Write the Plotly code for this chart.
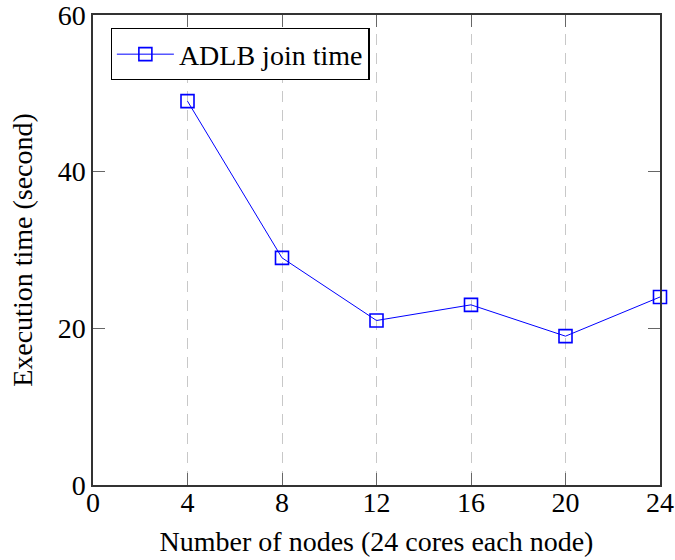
import plotly.graph_objects as go

# Measured ADLB join time per node count
nodes = [4, 8, 12, 16, 20, 24]
join_time = [49, 29, 21, 23, 19, 24]

x_ticks = [0, 4, 8, 12, 16, 20, 24]
y_ticks = [0, 20, 40, 60]

FONT = "Liberation Serif, Times New Roman, serif"
FS = 28

fig = go.Figure()
fig.add_trace(go.Scatter(
    x=nodes,
    y=join_time,
    mode="lines+markers",
    name="ADLB join time",
    line=dict(color="#0000ff", width=1),
    marker=dict(symbol="square-open", size=13, color="#0000ff",
                line=dict(width=1.6, color="#0000ff")),
    cliponaxis=False,
))

fig.update_layout(
    width=675,
    height=560,
    margin=dict(l=93, r=15, t=15, b=75),
    paper_bgcolor="white",
    plot_bgcolor="white",
    font=dict(family=FONT, size=FS, color="black"),
    showlegend=True,
    legend=dict(
        x=0.031, y=0.972, xanchor="left", yanchor="top",
        bgcolor="white", bordercolor="black", borderwidth=1.3,
        font=dict(family=FONT, size=FS, color="black"),
        itemwidth=57,
    ),
    xaxis=dict(
        range=[0, 24],
        tickvals=x_ticks,
        ticktext=[str(v) for v in x_ticks],
        ticks="inside", ticklen=12, tickwidth=1.3, tickcolor="#666",
        ticklabeloverflow="allow", ticklabelstandoff=-8,
        showline=True, linecolor="#333", linewidth=1.5, mirror="allticks",
        showgrid=True, gridcolor="#c8c8c8", gridwidth=1.3, griddash="11px,8px",
        zeroline=False, automargin=False,
        title=dict(text="Number of nodes (24 cores each node)", standoff=14,
                   font=dict(family=FONT, size=FS)),
        tickfont=dict(family=FONT, size=FS),
    ),
    yaxis=dict(
        range=[0, 60],
        tickvals=y_ticks,
        ticktext=[str(v) for v in y_ticks],
        ticks="inside", ticklen=12, tickwidth=1.3, tickcolor="#666",
        ticklabeloverflow="allow",
        showline=True, linecolor="#333", linewidth=1.5, mirror="allticks",
        showgrid=False,
        zeroline=False, automargin=False,
        title=dict(text="Execution time (second)", standoff=17,
                   font=dict(family=FONT, size=FS)),
        tickfont=dict(family=FONT, size=FS),
    ),
)

fig.write_html("out.html")
